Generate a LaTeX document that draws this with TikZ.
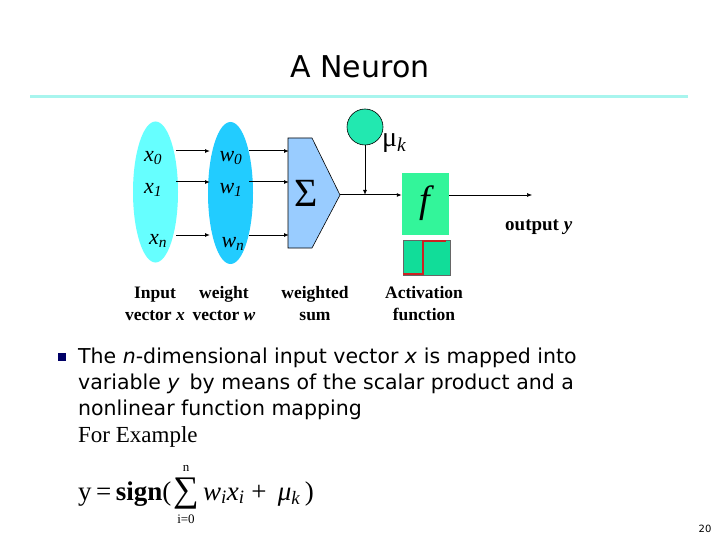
\documentclass[tikz,border=0pt]{standalone}
\usepackage{fontspec}
\setmainfont{Liberation Serif}
\newfontfamily\tah{DejaVu Sans}
\usetikzlibrary{arrows.meta}
\definecolor{inp}{HTML}{66FFFF}
\definecolor{wgt}{HTML}{22CCFF}
\definecolor{sumc}{HTML}{99CCFF}
\definecolor{muc}{HTML}{22E8B0}
\definecolor{fc}{HTML}{33F59A}
\definecolor{stepc}{HTML}{11DD99}
\definecolor{linec}{HTML}{A8F5EE}
\definecolor{stepred}{HTML}{CC2222}
\begin{document}
\begin{tikzpicture}[x=1pt,y=-1pt,
  arr/.style={-{Latex[length=5pt,width=4pt]},line width=1pt},
  lab/.style={font=\fontsize{17.5}{22}\selectfont\bfseries,align=center,inner sep=0},
  var/.style={font=\fontsize{22}{22}\selectfont\itshape,inner sep=0},
  body/.style={font=\tah\fontsize{20.5}{26}\selectfont,anchor=west,inner sep=0},
  eqf/.style={font=\fontsize{27}{27}\selectfont,inner sep=0,anchor=base west}]
\useasboundingbox[fill=white] (0,0) rectangle (720,540);
\node[font=\tah\fontsize{30}{32}\selectfont] (title) at (360,67) {A Neuron};
\draw[linec,line width=3pt] (30,97) -- (688,97);
\fill[inp] (155.5,192) ellipse (22.5 and 70.5);
\fill[wgt] (230.5,193) ellipse (22.5 and 71);
\node[var] (x0) at (153,158) {x\textsubscript{\itshape 0}};
\node[var] (x1) at (153,190) {x\textsubscript{\itshape 1}};
\node[var] (xn) at (158,241) {x\textsubscript{\itshape n}};
\node[var] (w0) at (231,158) {w\textsubscript{\itshape 0}};
\node[var] (w1) at (231,190) {w\textsubscript{\itshape 1}};
\node[var] (wn) at (233,244) {w\textsubscript{\itshape n}};
\coordinate (a0) at (176,151); \coordinate (b0) at (210,151);
\coordinate (a1) at (176,182); \coordinate (b1) at (210,182);
\coordinate (an) at (176,235); \coordinate (bn) at (210,235);
\coordinate (c0) at (249,151); \coordinate (d0) at (289,151);
\coordinate (c1) at (249,182); \coordinate (d1) at (289,182);
\coordinate (cn) at (249,235); \coordinate (dn) at (289,235);
\foreach \p/\q in {a0/b0,a1/b1,an/bn,c0/d0,c1/d1,cn/dn} \draw[arr] (\p) -- (\q);
\draw[fill=sumc,line width=0.6pt] (288,138) -- (312,138) -- (340,195) -- (312,248) -- (288,248) -- cycle;
\coordinate (sout) at (340,195);
\node[font=\fontsize{40}{40}\selectfont,inner sep=0] (sig) at (306,193) {Σ};
\node[circle,fill=muc,draw=black,line width=0.6pt,minimum size=36pt,inner sep=0] (mu) at (365,127) {};
\node[font=\fontsize{28}{28}\selectfont,anchor=west,inner sep=0] (mulab) at (382,143) {μ\textsubscript{\itshape k}};
\node[fill=fc,minimum width=47pt,minimum height=62pt,inner sep=0] (f) at (425.5,204) {};
\node[font=\fontsize{38}{38}\selectfont\itshape,inner sep=0] (fl) at (425,203) {f};
\coordinate (j) at (365,195);
\draw[line width=1pt] (sout) -- (j);
\draw[arr] (j) -- (f.west |- j);
\draw[arr] (mu.south) -- (j);
\coordinate (out) at (532,195);
\draw[arr,line width=0.6pt] (f.east |- out) -- (out);
\node[lab,anchor=west,font=\fontsize{19}{22}\selectfont\bfseries] (outl) at (505,227) {output \textit{y}};
\node[fill=stepc,draw=black!60,line width=0.5pt,minimum width=47pt,minimum height=35pt,inner sep=0] (step) at (426.5,257.5) {};
\draw[stepred,line width=2pt] (403,274) -- (423,274) -- (423,241) -- (446,241);
\node[lab] (l1) at (155,304) {Input\\vector \textit{x}};
\node[lab] (l2) at (224,304) {weight\\vector \textit{w}};
\node[lab] (l3) at (315,304) {weighted\\sum};
\node[lab] (l4) at (424,304) {Activation\\function};
\fill[blue!40!black] (58,353) rectangle (66,361);
\node[body] (t1) at (78,358) {The \textit{n}-dimensional input vector \textit{x} is mapped into};
\node[body] (t2) at (78,384) {variable \textit{y}\, by means of the scalar product and a};
\node[body] (t3) at (78,410) {nonlinear function mapping};
\node[font=\fontsize{23}{23}\selectfont,anchor=west,inner sep=0] (ex) at (78,437) {For Example};
\node[eqf] (eq) at (78,500) {y\,=\,\textbf{sign}(};
\node[font=\fontsize{36}{36}\selectfont,inner sep=0] (sum) at (186,494) {∑};
\node[font=\fontsize{13}{13}\selectfont,inner sep=0] (up) at (186,468) {n};
\node[font=\fontsize{13}{13}\selectfont,inner sep=0] (lo) at (186,519) {i=0};
\node[eqf,font=\fontsize{27}{27}\selectfont\itshape] (rest) at (203,500) {w\textsubscript{i}x\textsubscript{i} \upshape+\, \itshape μ\textsubscript{k}\,\upshape)};
\node[font=\tah\fontsize{10}{10}\selectfont] (pg) at (705,529) {20};
\end{tikzpicture}
\end{document}
